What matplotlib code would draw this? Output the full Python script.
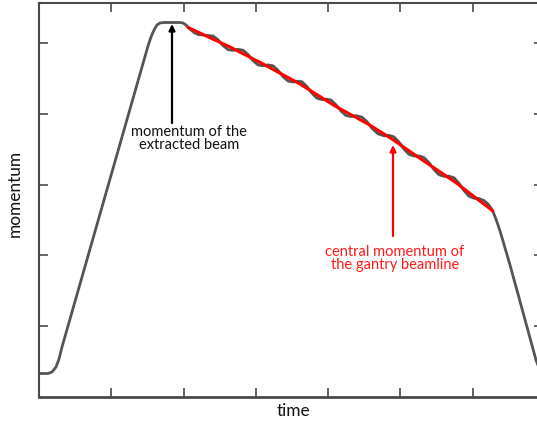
import matplotlib
matplotlib.use("Agg")
import matplotlib.pyplot as plt

# ---- data (arbitrary units: time, momentum) ----
cycle_time = [0, 9, 13, 17, 20, 23, 61, 101, 106, 109, 112, 115, 118, 121, 125, 141,
              144, 147, 151, 155, 159, 164, 169, 174, 179, 184, 189, 194, 199, 204,
              209, 214, 219, 224, 229, 234, 239, 244, 249, 254, 259, 263, 268, 273,
              278, 283, 288, 292, 297, 302, 307, 312, 317, 323, 328, 333, 339, 345,
              350, 355, 360, 365, 370, 375, 380, 385, 390, 395, 400, 405, 410, 415,
              420, 425, 430, 435, 440, 445, 449, 452, 455, 458, 461, 464, 471, 479,
              488, 494, 497, 500, 504]
cycle_momentum = [23.5, 23.5, 25, 30, 38, 50, 183, 323, 340.5, 351, 360, 367, 372, 374,
                  374.5, 374.5, 374, 372, 368, 364.5, 362.5, 362, 361.5, 361, 357.3,
                  351.5, 347.4, 346.7, 347.6, 346.8, 342.5, 336.4, 332.1, 331.2, 332.1,
                  331.2, 326.7, 320.5, 316.0, 315.0, 315.8, 315.2, 310.3, 303.7, 298.8,
                  297.4, 297.8, 297.0, 292.2, 286.0, 281.5, 280.5, 281.3, 279.8, 275.3,
                  268.7, 263.2, 261.2, 261.6, 260.1, 254.9, 247.9, 242.7, 241.0, 241.1,
                  239.4, 234.3, 227.4, 222.3, 220.7, 220.8, 219.2, 213.7, 206.4, 200.8,
                  198.8, 198.4, 196.4, 193, 189, 183, 175, 166, 156, 132, 103, 70, 48,
                  37, 29, 23]

gantry_time = [149, 191, 226, 261, 296, 329, 353, 376, 416, 454]
gantry_momentum = [369.5, 350, 332, 313, 291, 273, 258, 242, 215, 186]

xticks = [72.3, 144.6, 217, 289, 361, 434]
yticks = [71.3, 142, 212.5, 283, 354]

extracted_arrow = {"x": 133, "tail": 274, "head": 373}
extracted_text = {"x": 150, "y": 258.5, "label": "momentum of the\nextracted beam"}
gantry_arrow = {"x": 354, "tail": 161, "head": 252}
gantry_text = {"x": 356, "y": 138.5, "label": "central momentum of\nthe gantry beamline"}

FONT = ["Lato", "DejaVu Sans"]
plt.rcParams["font.family"] = FONT

fig = plt.figure(figsize=(5.37, 4.25), dpi=100)
ax = fig.add_axes([39 / 537, (425 - 397) / 425, 504 / 537, 394 / 425])

spine_col = "#4a4a4a"
ax.plot(cycle_time, cycle_momentum, color="#555555", lw=2.0, solid_capstyle="round",
        solid_joinstyle="round")
ax.plot(gantry_time, gantry_momentum, color="#ff0000", lw=2.2, solid_capstyle="round")

ax.set_xlim(0, 504)
ax.set_ylim(0, 394)
ax.set_xticks(xticks)
ax.set_yticks(yticks)
ax.set_xticklabels([])
ax.set_yticklabels([])
ax.tick_params(direction="in", length=6.5, width=1.2, colors=spine_col,
               top=True, right=True, bottom=True, left=True)
for s in ax.spines.values():
    s.set_color(spine_col)
    s.set_linewidth(1.5)
ax.spines["bottom"].set_linewidth(2.0)

# annotations
ax.annotate("", xy=(extracted_arrow["x"], extracted_arrow["head"]),
            xytext=(extracted_arrow["x"], extracted_arrow["tail"]),
            arrowprops=dict(arrowstyle="-|>", color="black", lw=1.6,
                            mutation_scale=9, shrinkA=0, shrinkB=0))
ax.text(extracted_text["x"], extracted_text["y"], extracted_text["label"],
        ha="center", va="center", fontsize=10.5, color="#111111", linespacing=0.85,
        family=FONT)

ax.annotate("", xy=(gantry_arrow["x"], gantry_arrow["head"]),
            xytext=(gantry_arrow["x"], gantry_arrow["tail"]),
            arrowprops=dict(arrowstyle="-|>", color="#ff0000", lw=1.6,
                            mutation_scale=9, shrinkA=0, shrinkB=0))
ax.text(gantry_text["x"], gantry_text["y"], gantry_text["label"],
        ha="center", va="center", fontsize=10.5, color="#ff1a1a", linespacing=0.85,
        family=FONT)

fig.text(293 / 537, 1 - 411 / 425, "time", ha="center", va="center",
         fontsize=12.4, color="#111111", family=FONT)
fig.text(15 / 537, 1 - 193 / 425, "momentum", ha="center", va="center",
         rotation=90, fontsize=12.4, color="#111111", family=FONT)

fig.savefig("out.png", dpi=100, facecolor="white")
